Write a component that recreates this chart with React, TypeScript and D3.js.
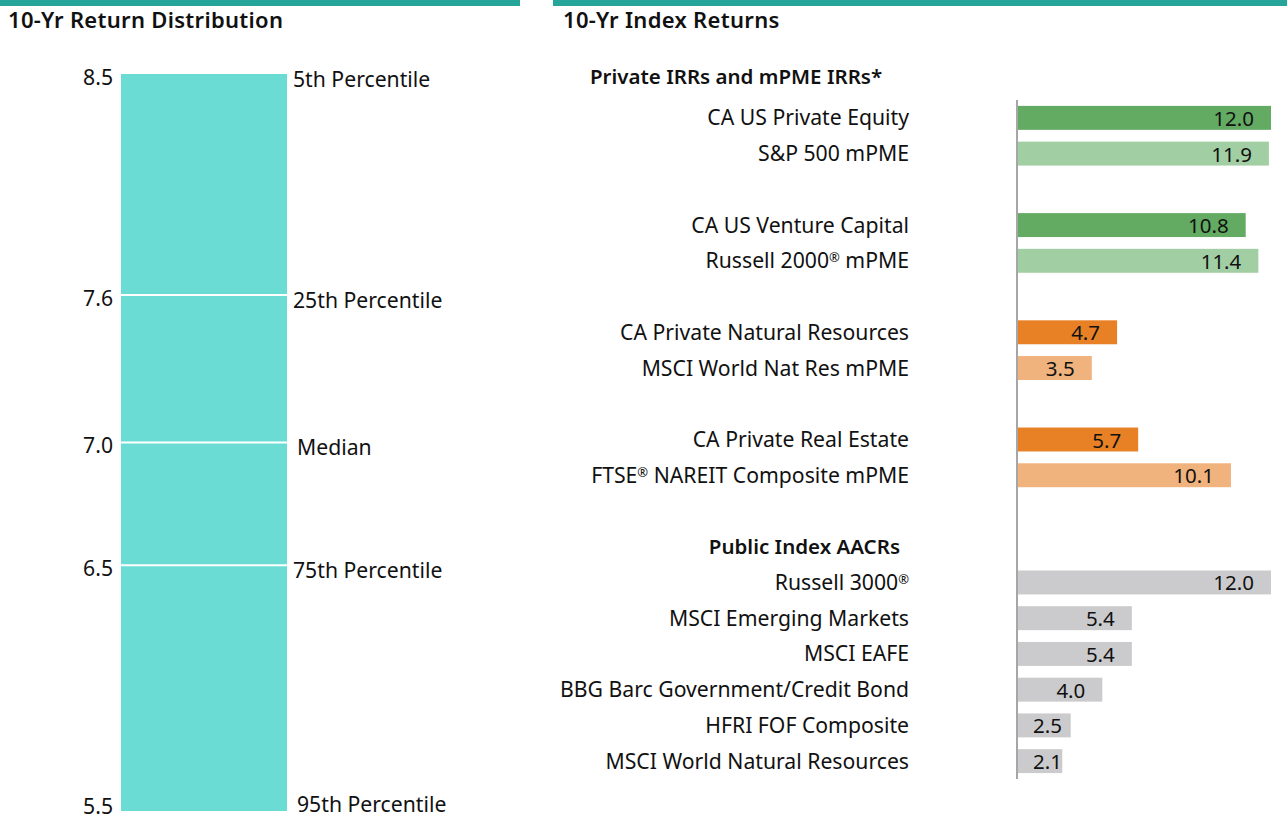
import * as d3 from 'd3';
import React from 'react';

// left panel: return distribution
const distValues = [8.5, 7.6, 7.0, 6.5, 5.5];
const distLabels = ['5th Percentile', '25th Percentile', 'Median', '75th Percentile', '95th Percentile'];
const distTicks = ['8.5', '7.6', '7.0', '6.5', '5.5'];

// right panel: index returns (blank rows are spacers)
const indexNames = [
  'CA US Private Equity',
  'S&P 500 mPME',
  '',
  'CA US Venture Capital',
  'Russell 2000® mPME',
  '',
  'CA Private Natural Resources',
  'MSCI World Nat Res mPME',
  '',
  'CA Private Real Estate',
  'FTSE® NAREIT Composite mPME',
  '',
  'Public Index AACRs',
  'Russell 3000®',
  'MSCI Emerging Markets',
  'MSCI EAFE',
  'BBG Barc Government/Credit Bond',
  'HFRI FOF Composite',
  'MSCI World Natural Resources',
];
const indexValues = [12.0, 11.9, null, 10.8, 11.4, null, 4.7, 3.5, null, 5.7, 10.1, null, null, 12.0, 5.4, 5.4, 4.0, 2.5, 2.1];
const indexKinds = ['pe', 'pme', '', 'pe', 'pme', '', 'nr', 'nrPme', '', 'nr', 'nrPme', '', 'header', 'pub', 'pub', 'pub', 'pub', 'pub', 'pub'];

const kindColor: Record<string, string> = {
  pe: '#63aa63',
  pme: '#a2cea3',
  nr: '#e88125',
  nrPme: '#f0b37d',
  pub: '#cbcbcd',
};

const FONT = "'Noto Sans', 'Open Sans', sans-serif";
const FS = 21.2;

// text with a small raised ® mark
function Label({ text, ...rest }: any) {
  const parts = text.split('®');
  return (
    <text {...rest}>
      {parts.map((p: string, i: number) => (
        <React.Fragment key={i}>
          <tspan dy={i > 0 ? 6 : 0}>{p}</tspan>
          {i < parts.length - 1 && (
            <tspan fontSize={13} dy={-6}>
              ®
            </tspan>
          )}
        </React.Fragment>
      ))}
    </text>
  );
}

export default function App() {
  const width = 1287;
  const height = 818;

  const y = d3.scaleLinear().domain([5.5, 8.5]).range([811, 74]);
  const barX0 = 121;
  const barX1 = 287;

  const rows = d3.range(indexNames.length);
  const band = d3.scaleBand<number>().domain(rows).range([100, 779]).paddingInner(0.33).paddingOuter(0.165);
  const x = d3.scaleLinear().domain([0, 12]).range([1018, 1271]);
  const rowMid = (i: number) => band(i)! + band.bandwidth() / 2;

  return (
    <svg
      width={width}
      height={height}
      style={{ position: 'absolute', left: 0, top: 0, fontFamily: FONT }}
    >
      <rect x={0} y={0} width={520} height={6} fill="#26a69a" />
      <rect x={553} y={0} width={734} height={6} fill="#26a69a" />

      <text x={8} y={28} fontSize={22} fontWeight={600} fill="#111" letterSpacing={0.3}>
        10-Yr Return Distribution
      </text>
      <text x={563} y={28} fontSize={22} fontWeight={600} fill="#111" letterSpacing={0.3}>
        10-Yr Index Returns
      </text>

      {/* distribution column */}
      <rect x={barX0} y={y(8.5)} width={barX1 - barX0} height={y(5.5) - y(8.5)} fill="#6adcd4" />
      {distValues.slice(1, -1).map((v) => (
        <line key={v} x1={barX0} x2={barX1} y1={y(v)} y2={y(v)} stroke="#fff" strokeWidth={2} />
      ))}
      {distValues.map((v, i) => {
        const yy = Math.min(Math.max(y(v) + 3, 77), 806);
        return (
          <text key={'t' + i} x={113} y={yy + 7.5} textAnchor="end" fontSize={FS} fill="#111">
            {distTicks[i]}
          </text>
        );
      })}
      {distLabels.map((d, i) => {
        const yy = Math.min(Math.max(y(distValues[i]) + 5, 77), 804);
        return (
          <text key={d} x={i === 2 || i === 4 ? 297 : 293} y={yy + 7.5} fontSize={FS} fill="#111">
            {d}
          </text>
        );
      })}

      {/* index returns */}
      <text x={590} y={84} fontSize={20.5} fontWeight={600} fill="#111">
        Private IRRs and mPME IRRs*
      </text>
      {rows.map((i) => {
        const v = indexValues[i];
        const kind = indexKinds[i];
        if (kind === 'header') {
          return (
            <text key={i} x={900} y={rowMid(i) + 7.5} textAnchor="end" fontSize={20.5} fontWeight={600} fill="#111">
              {indexNames[i]}
            </text>
          );
        }
        if (v == null) return null;
        const lblX = Math.max(x(v) - 17, x(0) + 44);
        return (
          <g key={i}>
            <Label text={indexNames[i]} x={909} y={rowMid(i) + 7.5} textAnchor="end" fontSize={FS} fill="#111" />
            <rect x={x(0)} y={band(i)} width={x(v) - x(0)} height={band.bandwidth()} fill={kindColor[kind]} />
            <text x={lblX} y={rowMid(i) + 8} textAnchor="end" fontSize={20.5} fill="#111">
              {v.toFixed(1)}
            </text>
          </g>
        );
      })}
      <line x1={x(0) - 1} x2={x(0) - 1} y1={100} y2={779} stroke="#a6a6a6" strokeWidth={2} />
    </svg>
  );
}
